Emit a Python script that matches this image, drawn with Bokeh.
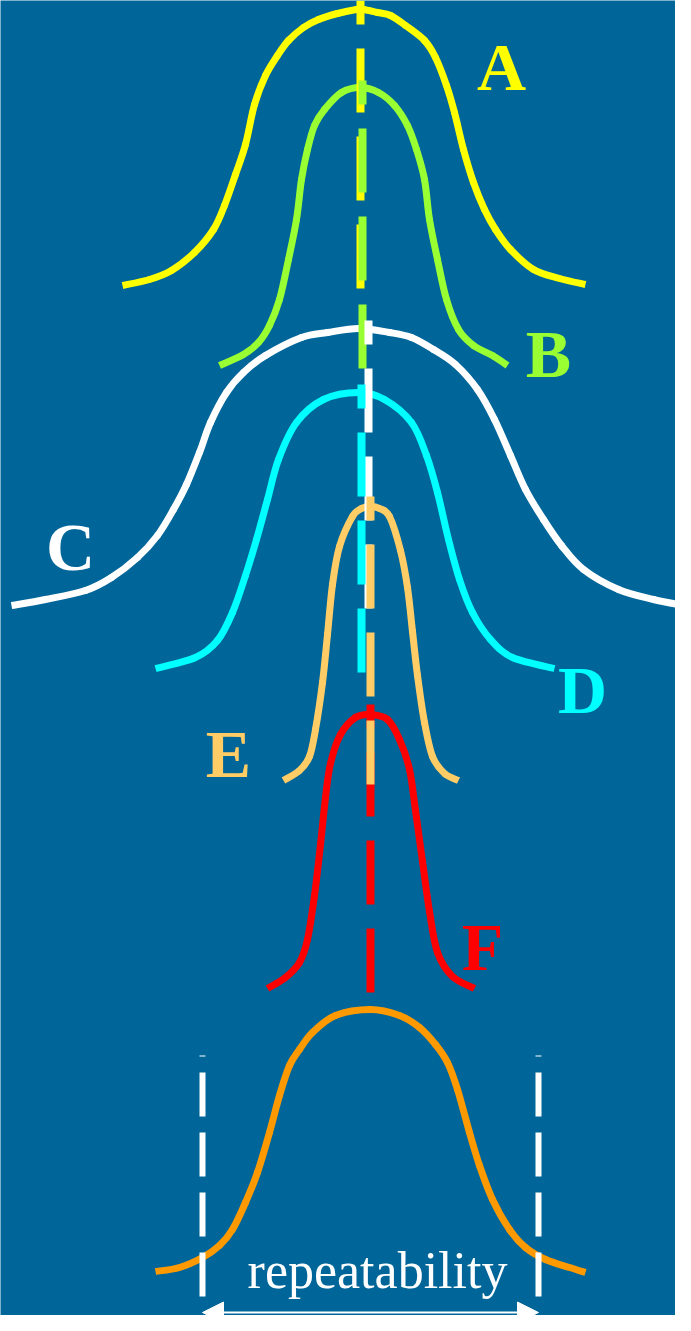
from bokeh.plotting import figure
from bokeh.models import Range1d, Arrow, NormalHead
from bokeh.core.properties import value
from bokeh.embed import file_html
from bokeh.resources import INLINE

# ---- curve samples (x, y in picture units, y downwards) ----
a_x = [130, 157, 179, 202, 221, 232, 243, 253, 262, 273, 285, 296, 311, 326, 345, 364, 371, 385, 398, 413, 432, 443, 454, 462, 471, 481, 492, 503, 518, 541, 567, 593]
a_y = [293, 287, 278, 260, 237, 213, 182, 152, 112, 83, 63, 48, 35, 27, 21, 17, 17, 20, 23, 33, 48, 65, 93, 120, 157, 190, 217, 237, 257, 277, 286, 292]

b_x = [227, 251, 266, 277, 287, 296, 304, 309, 315, 322, 332, 349, 368, 386, 402, 415, 424, 432, 437, 445, 454, 466, 481, 500, 515]
b_y = [373, 362, 350, 333, 307, 267, 227, 187, 157, 133, 117, 100, 95, 100, 113, 133, 157, 187, 227, 267, 307, 337, 353, 363, 373]

c_x = [19, 53, 93, 119, 145, 165, 181, 194, 207, 218, 234, 251, 273, 309, 335, 366, 397, 419, 441, 463, 485, 502, 518, 533, 551, 569, 591, 626, 661, 691]
c_y = [613, 607, 598, 585, 565, 543, 517, 492, 460, 430, 400, 380, 363, 345, 340, 336, 340, 345, 357, 372, 397, 427, 463, 497, 527, 553, 577, 597, 607, 613]

d_x = [163, 203, 225, 240, 253, 264, 275, 286, 304, 331, 366, 392, 419, 434, 445, 456, 467, 480, 498, 520, 562]
d_y = [676, 665, 648, 620, 583, 547, 507, 467, 430, 407, 400, 407, 430, 463, 500, 547, 587, 620, 647, 665, 676]

e_x = [291, 307, 317, 323, 330, 335, 340, 347, 360, 369, 378, 387, 397, 408, 415, 420, 425, 432, 440, 452, 466]
e_y = [788, 778, 764, 737, 690, 642, 592, 554, 524, 516, 514, 516, 524, 558, 595, 639, 683, 730, 764, 781, 788]

f_x = [275, 293, 307, 315, 322, 328, 333, 338, 348, 363, 378, 395, 407, 417, 423, 430, 437, 445, 460, 482]
f_y = [996, 985, 970, 947, 903, 852, 805, 771, 742, 725, 722, 727, 747, 777, 818, 869, 919, 960, 984, 996]

g_x = [163, 187, 210, 227, 240, 253, 265, 277, 287, 297, 307, 320, 343, 378, 407, 427, 443, 455, 465, 477, 487, 500, 517, 533, 553, 577, 593]
g_y = [1279, 1275, 1265, 1253, 1237, 1210, 1180, 1140, 1103, 1073, 1057, 1040, 1023, 1017, 1023, 1035, 1052, 1070, 1097, 1140, 1173, 1207, 1237, 1255, 1267, 1275, 1280]

# centre (mean) lines: x, bottom, top
mean_x = [368, 370, 376, 369, 378, 378]
mean_bottom = [296, 376, 616, 680, 792, 1000]
mean_top = [8, 88, 328, 392, 504, 712]

# repeatability limits
limit_x = [210, 546]
limit_bottom = 1304
limit_top = 1063
arrow_y = 1320

labels = ["A", "B", "C", "D", "E", "F"]
label_x = [509, 556, 78, 590, 236, 490]
label_y = [74, 361, 554, 697, 761, 954]
caption = "repeatability"
caption_x = 385
caption_y = 1278

BG = "#006699"
colors = ["#FFFF00", "#99FF33", "#FFFFFF", "#00FFFF", "#FFCC66", "#FF0000"]
ORANGE = "#FF9900"
LW = 7

p = figure(width=675, height=1315, x_range=Range1d(8, 683), y_range=Range1d(1323, 8),
           x_axis_type=None, y_axis_type=None, toolbar_location=None,
           output_backend="svg", min_border=0)
p.background_fill_color = BG
p.border_fill_color = BG
p.outline_line_color = None
p.grid.visible = False


def smooth(xs, ys, color):
    """Draw a smooth path through the read points (Catmull-Rom as cubic Beziers)."""
    n = len(xs)
    segs = []
    for i in range(n - 1):
        pa = max(i - 1, 0)
        pb = min(i + 2, n - 1)
        segs.append((xs[i], ys[i], xs[i + 1], ys[i + 1],
                     xs[i] + (xs[i + 1] - xs[pa]) / 6.0,
                     ys[i] + (ys[i + 1] - ys[pa]) / 6.0,
                     xs[i + 1] - (xs[pb] - xs[i]) / 6.0,
                     ys[i + 1] - (ys[pb] - ys[i]) / 6.0))
    for group, cap in ((segs[1:-1], "round"), ([segs[0], segs[-1]], "butt")):
        cols = list(zip(*group))
        p.bezier(x0=list(cols[0]), y0=list(cols[1]), x1=list(cols[2]), y1=list(cols[3]),
                 cx0=list(cols[4]), cy0=list(cols[5]), cx1=list(cols[6]), cy1=list(cols[7]),
                 line_color=color, line_width=LW, line_cap=cap)


curves = [(a_x, a_y), (b_x, b_y), (c_x, c_y), (d_x, d_y), (e_x, e_y), (f_x, f_y)]
for (cx, cy), col in zip(curves, colors):
    smooth(cx, cy, col)
smooth(g_x, g_y, ORANGE)

order = [0, 1, 2, 3, 5, 4]
for i in order:
    p.line([mean_x[i], mean_x[i]], [mean_bottom[i], mean_top[i]],
           line_color=colors[i], line_width=8, line_dash="64 24")

for lx in limit_x:
    p.line([lx, lx], [limit_bottom, limit_top], line_color="white",
           line_width=6, line_dash="44 16")

p.add_layout(Arrow(start=NormalHead(size=21, fill_color="white", line_color="white", line_width=1),
                   end=NormalHead(size=21, fill_color="white", line_color="white", line_width=1),
                   x_start=limit_x[0], y_start=arrow_y, x_end=limit_x[1], y_end=arrow_y,
                   line_color="white", line_width=2))

p.text(x=label_x, y=label_y, text=labels, text_color=colors,
       text_font=value("Liberation Serif"), text_font_style="bold",
       text_font_size="68px", text_align="center", text_baseline="alphabetic")

p.text(x=[caption_x], y=[caption_y], text=[caption], text_color="white",
       text_font=value("Liberation Serif"), text_font_size="52px",
       text_align="center", text_baseline="alphabetic")

open("out.html", "w").write(file_html(p, INLINE))
